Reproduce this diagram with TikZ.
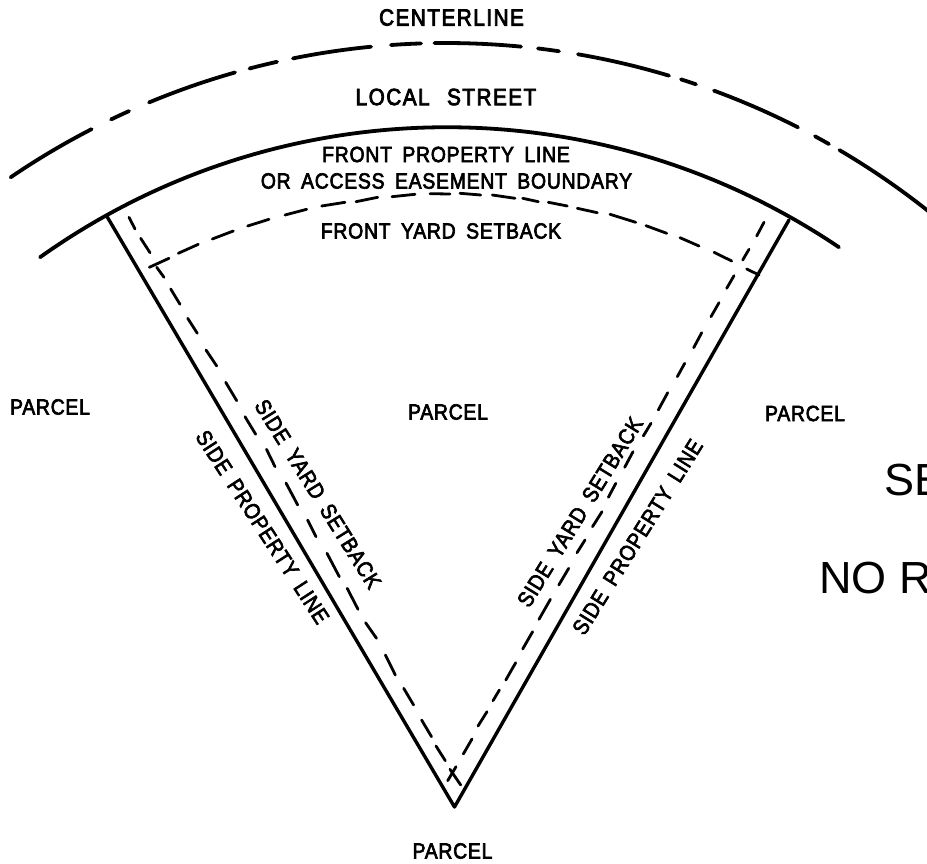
\documentclass[tikz,border=0pt]{standalone}
\usepackage{fontspec}
\newfontfamily\labfont[LetterSpace=3.5,FakeBold=3,FakeStretch=0.88,WordSpace=1.7]{Liberation Sans}
\newfontfamily\labbig[LetterSpace=6.5,FakeBold=3.5,FakeStretch=0.88,WordSpace=2.4]{Liberation Sans}
\newfontfamily\bigfont{Liberation Sans}
\tikzset{
  solidline/.style={line width=3.4pt,line cap=round,line join=round},
  setback/.style={line width=2.8pt,line cap=round},
  cline/.style={line width=3.8pt,line cap=round},
  lbl/.style={inner sep=0pt,font=\labfont\fontsize{22}{22}\selectfont},
  lblbig/.style={inner sep=0pt,font=\labbig\fontsize{23.5}{23.5}\selectfont},
  bigl/.style={inner sep=0pt,anchor=base west,font=\bigfont\fontsize{45}{45}\selectfont}
}
\begin{document}
\begin{tikzpicture}[x=1pt,y=-1pt]
\clip (0,0) rectangle (927,864);
\fill[white] (0,0) rectangle (927,864);
% centerline
\def\ccx{446.5}\def\ccy{817.6}\def\ccr{774.6}
\foreach \a/\b in {10.6/91.6,111/129,149/235,249.5/277,293/371,391/421,434.5/521,538/559,578/669,681/696,714/798,815/829,839.5/935}{
  \pgfmathsetmacro\sa{-acos((\a-\ccx)/\ccr)}
  \pgfmathsetmacro\sb{-acos((\b-\ccx)/\ccr)}
  \draw[cline] ([shift={(\ccx,\ccy)}]\sa:\ccr) arc[start angle=\sa,end angle=\sb,radius=\ccr];
}
% front property line
\def\ffx{446.7}\def\ffy{828.2}\def\ffr{701}
\pgfmathsetmacro\sa{-acos((40-\ffx)/\ffr)}
\pgfmathsetmacro\sb{-acos((839-\ffx)/\ffr)}
\draw[cline] ([shift={(\ffx,\ffy)}]\sa:\ffr) arc[start angle=\sa,end angle=\sb,radius=\ffr];
% side lines
\coordinate (L) at (106.7,216);
\coordinate (V) at (454.5,807);
\coordinate (R) at (789,220);
\draw[solidline] (L) -- (V) -- (R);
% setback dashes
\foreach \p/\q in {
 {129,217.3}/{135,229},{140.7,238.3}/{150,252.7},{156.7,267.3}/{164,277.3},{170.7,289}/{180,304.3},
 {187.7,318.3}/{197.3,333.3},{206,350}/{216.7,366},{225.7,382.3}/{236.7,400.7},{245,416.7}/{255.7,434.3},
 {266.5,449.3}/{275,466.7},{286,483}/{297.7,505},{307.6,520}/{316,536.7},{327,553.3}/{339.3,576.7},
 {347.2,588.3}/{358,609.3},{365.6,622.7}/{376.5,638.3},{385.4,655}/{395.3,675},{403.7,688.3}/{413.6,705},
 {421.6,720}/{431.5,736.7},{436,746}/{445.3,760.7},{450,769.3}/{460.7,785},
 {764,222.3}/{756.7,236},{749,249.3}/{742.7,260},{734,275.7}/{726.7,288.3},{719,302.7}/{711,316.7},
 {701.7,332.7}/{693.7,347.7},{684.7,363.3}/{677.3,376.7},{667.7,392.7}/{658.3,410},{651,423.3}/{643.3,436},
 {633,451.7}/{624.7,467.3},{615.8,483.3}/{608.4,497.3},{602,511.7}/{592.5,526.7},{585,540}/{577,552.7},
 {568.7,568.3}/{558.8,585},{550.4,599.3}/{539,619.3},{532.6,631.7}/{522.7,649},{515.7,662.7}/{505.8,680},
 {499.4,690}/{493,700.7},{487,711.7}/{478,726},{472,739}/{463.3,754},{456,766.7}/{447.7,780.7},
 {149.3,267.3}/{169,258.3},{178.3,253.3}/{198.3,244.3},{212.3,239}/{233.3,231},{247.7,226}/{269,219.3},
 {285,215}/{306.7,209.3},{321.7,206}/{345,202.3},{356,201.7}/{377.7,197.3},{392,196.7}/{415,194.3},
 {430,193.7}/{450,194},{460,193.3}/{480.7,195},{492.3,195}/{515,198.3},{522.7,198.3}/{538.3,201.7},
 {548.3,202.3}/{567.3,206},{577.3,208.3}/{597.3,212.7},{610,214.3}/{635.7,222.3},{646,225.7}/{666.7,233.3},
 {680,237.7}/{699,246},{714,252.3}/{731.7,261},{746.7,269}/{759,275}}{
  \draw[setback] (\p) -- (\q);
}
% labels
\node[lblbig] (center) at (451.5,17.5) {CENTERLINE};
\node[lblbig] (street) at (446,97) {LOCAL STREET};
\node[lbl] (front) at (446,154.5) {FRONT PROPERTY LINE};
\node[lbl] (access) at (446.5,181) {OR ACCESS EASEMENT BOUNDARY};
\node[lbl] (fysb) at (441,231) {FRONT YARD SETBACK};
\node[lbl] (p1) at (50,407) {PARCEL};
\node[lbl] (p2) at (448,412) {PARCEL};
\node[lbl] (p3) at (805,413.5) {PARCEL};
\node[lbl] (p4) at (452.5,851) {PARCEL};
\node[lbl,rotate=-57] (splL) at (262.5,527) {SIDE PROPERTY LINE};
\node[lbl,rotate=-58] (sysL) at (318,494) {SIDE YARD SETBACK};
\node[lbl,rotate=58.3] (sysR) at (580,512) {SIDE YARD SETBACK};
\node[lbl,rotate=58] (splR) at (637.5,537) {SIDE PROPERTY LINE};
\node[bigl] (se) at (884,495) {SE};
\node[bigl] (nor) at (819,593) {NO R};
\end{tikzpicture}
\end{document}
